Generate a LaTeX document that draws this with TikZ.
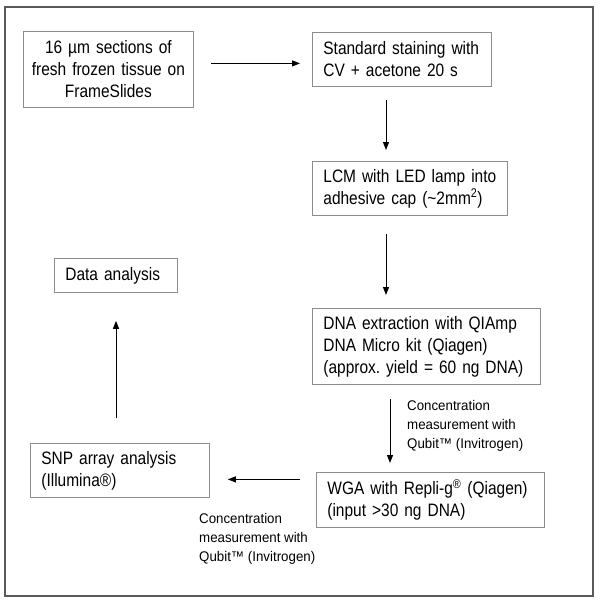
\documentclass[tikz,border=0pt]{standalone}
\usepackage{fontspec}
\setmainfont{Liberation Sans}[FakeStretch=0.86]
\newfontfamily\notefont{Liberation Sans}[FakeStretch=0.95]
\usetikzlibrary{positioning, arrows.meta}
\definecolor{boxgray}{RGB}{140,140,140}
\definecolor{framegray}{RGB}{90,90,90}
\frenchspacing

\begin{document}
\begin{tikzpicture}[
            x=1pt, y=-1pt,
            block/.style={rectangle, draw=boxgray, line width=0.8pt, anchor=north west, inner xsep=11pt, inner ysep=0pt, align=left, font=\fontsize{18}{22}\selectfont},
            note/.style={anchor=north west, inner sep=0pt, align=left, font=\notefont\fontsize{14}{19}\selectfont},
            flow/.style={-{Triangle[length=8pt,width=6pt]}, line width=1pt}
        ]

        \useasboundingbox (0,0) rectangle (600,603);
        \draw[framegray, line width=1.3pt] (5,7) rectangle (593,596);

        \node[block, align=center, inner xsep=2pt, text width=166pt, minimum height=76pt] (sections) at (23,31) {16 µm sections of\\fresh frozen tissue on\\FrameSlides};
        \node[block, text width=157pt, minimum height=54pt] (staining) at (312,32) {Standard staining with\\CV + acetone 20 s};
        \node[block, text width=173pt, minimum height=54pt] (lcm) at (312,161) {LCM with LED lamp into\\adhesive cap (\textasciitilde 2mm\textsuperscript{2})};
        \node[block, text width=206pt, minimum height=76pt] (extraction) at (312,308) {DNA extraction with QIAmp\\DNA Micro kit (Qiagen)\\(approx. yield = 60 ng DNA)};
        \node[block, text width=206pt, minimum height=55pt] (wga) at (316,472) {WGA with Repli-g\textsuperscript{®} (Qiagen)\\(input >30 ng DNA)};
        \node[block, text width=157pt, minimum height=54pt] (snp) at (30,443) {SNP array analysis\\(Illumina®)};
        \node[block, text width=101pt, minimum height=34pt] (analysis) at (54,258) {Data analysis};

        \node[note] (qubitA) at (407,400) {Concentration\\measurement with\\Qubit™ (Invitrogen)};
        \node[note] (qubitB) at (199,513) {Concentration\\measurement with\\Qubit™ (Invitrogen)};

        \draw[flow] ([xshift=17pt,yshift=6pt]sections.east) -- ([xshift=-12pt,yshift=-4pt]staining.west);
        \draw[flow] ([xshift=74pt,yshift=-13pt]staining.south west) -- ([xshift=74pt,yshift=11pt]lcm.north west);
        \draw[flow] ([xshift=74pt,yshift=-18pt]lcm.south west) -- ([xshift=74pt,yshift=13pt]extraction.north west);
        \draw[flow] ([xshift=78pt,yshift=-14pt]extraction.south west) -- ([xshift=74pt,yshift=9pt]wga.north west);
        \draw[flow] ([xshift=-16pt,yshift=20.5pt]wga.west) -- ([xshift=18pt,yshift=-9pt]snp.east);
        \draw[flow] ([xshift=86pt,yshift=25pt]snp.north west) -- ([xshift=62pt,yshift=-28pt]analysis.south west);

    \end{tikzpicture}
\end{document}
